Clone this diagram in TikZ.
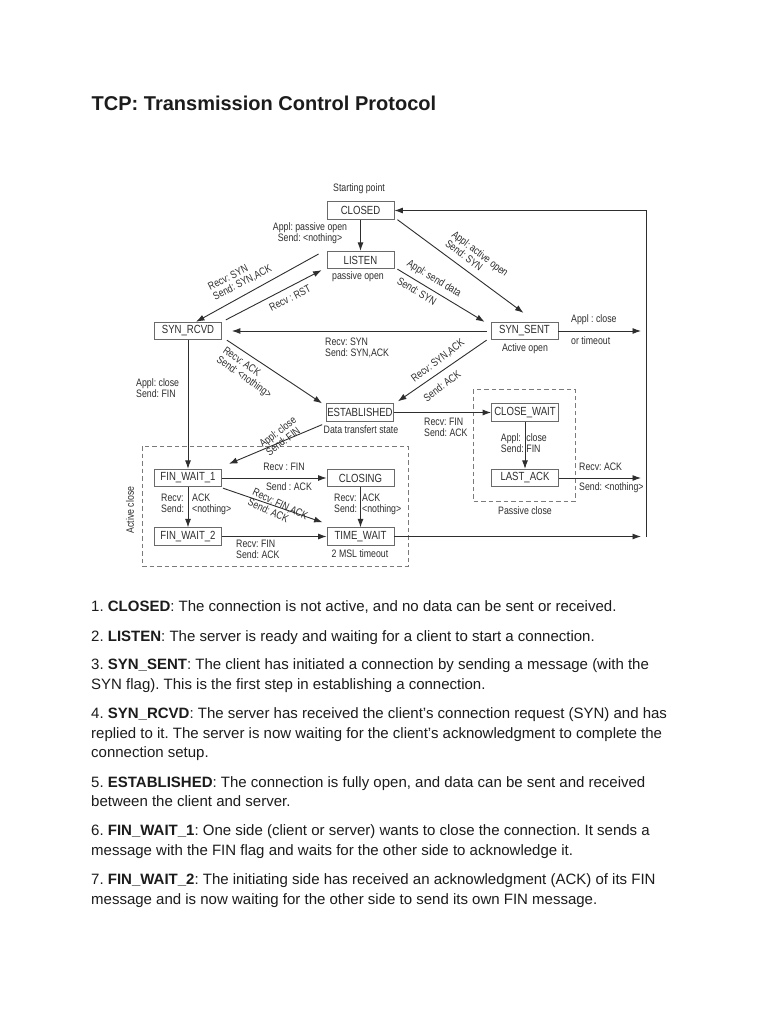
\documentclass[tikz,border=0pt]{standalone}
\usepackage{fontspec}
\setmainfont{Liberation Sans}
\newfontfamily\diagfont{Liberation Sans}[FakeStretch=0.812]
\usetikzlibrary{arrows.meta}
\frenchspacing

\definecolor{inkblack}{HTML}{1C1C1C}
\definecolor{diagink}{HTML}{2E2E2E}
\definecolor{boxline}{HTML}{6A6A6A}
\definecolor{zoneline}{HTML}{7A7A7A}

% label with a gap for a vertical arrow
\newcommand{\colpair}[3]{\makebox[#1][l]{#2}#3}

\begin{document}
\begin{tikzpicture}[x=1pt,y=-1pt,
  state/.style={draw=boxline,line width=0.8pt,minimum width=67pt,minimum height=17.5pt,
    inner sep=0pt,text=diagink,font=\diagfont\fontsize{11.8}{13}\selectfont},
  lbl/.style={inner sep=0pt,text=diagink,align=left,font=\diagfont\fontsize{10.8}{11}\selectfont},
  arr/.style={draw=diagink,line width=0.9pt,-{Latex[length=8.5pt,width=6pt]}},
  zone/.style={draw=zoneline,line width=0.8pt,dash pattern=on 4.5pt off 3pt},
  para/.style={anchor=base west,inner sep=0pt,align=left,text=inkblack,
    font=\fontsize{15}{19.6}\selectfont}]
\useasboundingbox[fill=white] (0,0) rectangle (768,1024);

\node[anchor=base west,inner sep=0pt,text=inkblack,font=\bfseries\fontsize{20}{24}\selectfont]
  (title) at (91.5,111) {TCP: Transmission Control Protocol};

% states
\node[state] (closed) at (360.5,210.5) {CLOSED};
\node[state] (listen) at (360.5,260) {LISTEN};
\node[state] (synrcvd) at (188,331) {SYN\_RCVD};
\node[state] (synsent) at (524.5,331) {SYN\_SENT};
\node[state] (estab) at (360,412.5) {ESTABLISHED};
\node[state] (closewait) at (525,412.5) {CLOSE\_WAIT};
\node[state] (lastack) at (525,478) {LAST\_ACK};
\node[state] (finwait1) at (188,478) {FIN\_WAIT\_1};
\node[state] (closing) at (360.5,478) {CLOSING};
\node[state] (finwait2) at (188,536.5) {FIN\_WAIT\_2};
\node[state] (timewait) at (360.5,536.5) {TIME\_WAIT};

% dashed zones
\draw[zone] (142,446) rectangle (408,566);
\draw[zone] (473,389) rectangle (575,501);
\node[lbl,rotate=90] (activelbl) at (130,510) {Active close};
\node[lbl] (passivelbl) at (525,511) {Passive close};

% loop back to CLOSED
\coordinate (looptop) at (646,210.5);
\coordinate (loopbot) at (646,536.5);
\coordinate (ssout) at (641,331);
\coordinate (laout) at (641,478);
\coordinate (twout) at (641,536.5);

% connectors
\draw[arr] (closed) -- (listen);
\draw[arr] ([shift={(-8,-6)}]listen.west) -- ([shift={(8,0)}]synrcvd.north);
\draw[arr] ([shift={(4,-2)}]synrcvd.north east) -- ([shift={(-5,1)}]listen.south west);
\draw[arr] ([shift={(3,0)}]closed.south east) -- ([shift={(-1,-9)}]synsent.north);
\draw[arr] ([shift={(3,0)}]listen.south east) -- ([shift={(-6,0)}]synsent.north west);
\draw[arr] ([xshift=-4]synsent.west) -- ([xshift=10]synrcvd.east);
\draw[arr] (synsent) -- (ssout);
\draw[arr] ([shift={(5,0)}]synrcvd.south east) -- ([shift={(-4,0)}]estab.north west);
\draw[arr] ([shift={(-4,0)}]synsent.south west) -- ([shift={(4,-2)}]estab.north east);
\draw[arr] (synrcvd) -- (finwait1);
\draw[arr] ([shift={(-4,3)}]estab.south west) -- ([shift={(7,-5)}]finwait1.north east);
\draw[arr] (estab) -- (closewait);
\draw[arr] (closewait) -- (lastack);
\draw[arr] (lastack) -- (laout);
\draw[arr] (finwait1) -- (closing);
\draw[arr] (finwait1) -- (finwait2);
\draw[arr] ([shift={(1,1)}]finwait1.south east) -- ([shift={(-4,-5)}]timewait.north west);
\draw[arr] (closing) -- (timewait);
\draw[arr] (finwait2) -- (timewait);
\draw[arr] (timewait) -- (twout);
\draw[arr] (loopbot) -- (looptop) -- (closed);

% transition labels
\node[lbl] (startlbl) at (359,189) {Starting point};
\node[lbl,align=center] (passopen) at (310,233) {Appl: passive open\\Send: <nothing>};
\node[lbl] (listenlbl) at (358,277) {passive open};
\node[lbl,rotate=27] (synlbl) at (240,278) {Recv: SYN\\Send: SYN,ACK};
\node[lbl,rotate=27] (rstlbl) at (290,298) {Recv : RST};
\node[lbl,rotate=-37] (actopen) at (477,258) {Appl: active open\\Send: SYN};
\node[lbl,rotate=-31] (senddata) at (434,279) {Appl: send data};
\node[lbl,rotate=-31] (sendsyn) at (417,291) {Send: SYN};
\node[lbl,anchor=west] (closeto) at (571,320) {Appl : close};
\node[lbl,anchor=west] (timeout) at (571,341) {or timeout};
\node[lbl,anchor=west] (simopen) at (325,347.5) {Recv: SYN\\Send: SYN,ACK};
\node[lbl] (activelbl2) at (525,349) {Active open};
\node[lbl,rotate=-35] (acklbl) at (247,373) {Recv: ACK\\Send: <nothing>};
\node[lbl,anchor=west] (rcvdclose) at (136,388) {Appl: close\\Send: FIN};
\node[lbl,rotate=37] (estclose) at (281,436) {Appl: close\\Send: FIN};
\node[lbl] (datalbl) at (361,430) {Data transfert state};
\node[lbl,rotate=37] (synack) at (438,361) {Recv: SYN,ACK};
\node[lbl,rotate=37] (sendack) at (442,386) {Send: ACK};
\node[lbl,anchor=west] (finrecv) at (424,427) {Recv: FIN\\Send: ACK};
\node[lbl,anchor=west] (cwclose) at (500.7,443) {\colpair{25.5pt}{Appl:}{close}\\\colpair{25.5pt}{Send:}{FIN}};
\node[lbl,anchor=west] (lastrecv) at (579,466.7) {Recv: ACK};
\node[lbl,anchor=west] (lastsend) at (579,487.5) {Send: <nothing>};
\node[lbl] (simfin) at (284,467) {Recv : FIN};
\node[lbl] (simack) at (289,487) {Send : ACK};
\node[lbl,anchor=west] (fw1ack) at (161,504) {\colpair{31pt}{Recv:}{ACK}\\\colpair{31pt}{Send:}{<nothing>}};
\node[lbl,rotate=-25] (finack) at (278,509) {Recv: FIN,ACK\\Send: ACK};
\node[lbl,anchor=west] (clsack) at (334,504) {\colpair{28pt}{Recv:}{ACK}\\\colpair{28pt}{Send:}{<nothing>}};
\node[lbl,anchor=west] (fw2fin) at (236,549) {Recv: FIN\\Send: ACK};
\node[lbl] (msllbl) at (360,554) {2 MSL timeout};

% state descriptions (base = last line)
\node[para] (d1) at (91,611.8) {1. \textbf{CLOSED}: The connection is not active, and no data can be sent or received.};
\node[para] (d2) at (91,641.2) {2. \textbf{LISTEN}: The server is ready and waiting for a client to start a connection.};
\node[para] (d3) at (91,689) {3. \textbf{SYN\_SENT}: The client has initiated a connection by sending a message (with the\\SYN flag). This is the first step in establishing a connection.};
\node[para] (d4) at (91,757.8) {4. \textbf{SYN\_RCVD}: The server has received the client's connection request (SYN) and has\\replied to it. The server is now waiting for the client's acknowledgment to complete the\\connection setup.};
\node[para] (d5) at (91,806.6) {5. \textbf{ESTABLISHED}: The connection is fully open, and data can be sent and received\\between the client and server.};
\node[para] (d6) at (91,855) {6. \textbf{FIN\_WAIT\_1}: One side (client or server) wants to close the connection. It sends a\\message with the FIN flag and waits for the other side to acknowledge it.};
\node[para] (d7) at (91,904) {7. \textbf{FIN\_WAIT\_2}: The initiating side has received an acknowledgment (ACK) of its FIN\\message and is now waiting for the other side to send its own FIN message.};
\end{tikzpicture}
\end{document}
